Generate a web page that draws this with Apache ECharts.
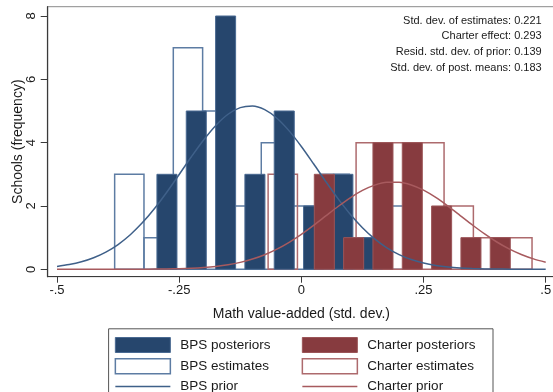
<!DOCTYPE html>
<html>
<head>
<meta charset="utf-8">
<script src="https://cdn.jsdelivr.net/npm/echarts@6/dist/echarts.min.js"></script>
<style>
  html, body { margin: 0; padding: 0; background: #fff; }
  #chart { width: 553px; height: 392px; }
</style>
</head>
<body>
<div id="chart"></div>
<script>
// Histogram bins of school value-added (std. dev.)
const BIN_WIDTH = 0.06;

// Raw estimates: left edge of each bin and school counts
const bpsEstLeft  = [-0.382, -0.322, -0.262, -0.202, -0.142, -0.082, -0.022, 0.038, 0.098, 0.158];
const bpsEstCount = [3, 1, 7, 5, 2, 4, 2, 3, 1, 2];
const charterEstLeft  = [-0.068, 0.112, 0.172, 0.232, 0.292, 0.352, 0.412];
const charterEstCount = [3, 4, 4, 4, 2, 1, 1];

// Posterior means: bin midpoints and school counts
const bpsPostMid   = [-0.275, -0.215, -0.155, -0.095, -0.035, 0.025, 0.085, 0.145];
const bpsPostCount = [3, 5, 8, 3, 5, 2, 3, 1];
const charterPostMid   = [0.047, 0.107, 0.167, 0.227, 0.287, 0.347, 0.407];
const charterPostCount = [3, 1, 4, 4, 2, 1, 1];

// Prior densities (scaled to frequency)
const priorX = [-0.5, -0.475, -0.45, -0.425, -0.4, -0.375, -0.35, -0.325, -0.3, -0.275,
  -0.25, -0.225, -0.2, -0.175, -0.15, -0.125, -0.1, -0.075, -0.05, -0.025,
  0, 0.025, 0.05, 0.075, 0.1, 0.125, 0.15, 0.175, 0.2, 0.225,
  0.25, 0.275, 0.3, 0.325, 0.35, 0.375, 0.4, 0.425, 0.45, 0.475, 0.5];
const bpsPrior = [0.091, 0.149, 0.237, 0.365, 0.543, 0.782, 1.092, 1.475, 1.929, 2.443,
  2.995, 3.555, 4.085, 4.545, 4.897, 5.107, 5.157, 5.041, 4.771, 4.372,
  3.879, 3.332, 2.771, 2.231, 1.739, 1.313, 0.959, 0.678, 0.465, 0.308,
  0.198, 0.123, 0.074, 0.043, 0.024, 0.013, 0.007, 0.004, 0.002, 0.001, 0.000];
const charterPrior = [0.000, 0.000, 0.000, 0.000, 0.000, 0.001, 0.002, 0.003, 0.006, 0.011,
  0.019, 0.033, 0.056, 0.091, 0.143, 0.219, 0.323, 0.461, 0.637, 0.853,
  1.106, 1.388, 1.686, 1.983, 2.259, 2.491, 2.659, 2.748, 2.750, 2.664,
  2.499, 2.269, 1.995, 1.698, 1.399, 1.117, 0.862, 0.645, 0.467, 0.328, 0.222];

// Axis ticks
const xTicks = [-0.5, -0.25, 0, 0.25, 0.5];
const xTickLabels = ['-.5', '-.25', '0', '.25', '.5'];
const yTicks = [0, 2, 4, 6, 8];

// Summary statistics
const notes = [
  'Std. dev. of estimates: 0.221',
  'Charter effect: 0.293',
  'Resid. std. dev. of prior: 0.139',
  'Std. dev. of post. means: 0.183'
];

const FONT = '"Liberation Sans", Arial, Helvetica, sans-serif';
const NAVY = '#26466d', NAVY_EDGE = '#4a6a92', NAVY_LINE = '#5d7ca3', NAVY_CURVE = '#3f6089';
const MAROON = '#873b3f', MAROON_EDGE = '#9b5558', MAROON_LINE = '#ad6a6d', MAROON_CURVE = '#a75a5e';
const POST_BAR_WIDTH = 0.041;
const LINE_ICON = 'path://M0,0H110V3H0Z';

function rectRenderer(fill, stroke, lineWidth) {
  return function (params, api) {
    const topLeft = api.coord([api.value(0), api.value(2)]);
    const bottomRight = api.coord([api.value(1), 0]);
    return {
      type: 'rect',
      shape: {
        x: topLeft[0], y: topLeft[1],
        width: bottomRight[0] - topLeft[0],
        height: bottomRight[1] - topLeft[1]
      },
      style: { fill: fill, stroke: stroke, lineWidth: lineWidth }
    };
  };
}

const estData = (lefts, counts) => lefts.map((l, i) => [l, l + BIN_WIDTH, counts[i]]);
const postData = (mids, counts) => mids.map((m, i) => [m - POST_BAR_WIDTH / 2, m + POST_BAR_WIDTH / 2, counts[i]]);
const curveData = (ys) => priorX.map((x, i) => [x, ys[i]]);

const chart = echarts.init(document.getElementById('chart'), null, { renderer: 'canvas' });

const legendCommon = {
  orient: 'vertical',
  top: 337,
  height: 80,
  padding: 0,
  itemWidth: 55,
  itemHeight: 15,
  itemGap: 5,
  selectedMode: false,
  textStyle: { fontFamily: FONT, fontSize: 13.5, color: '#1a1a1a', padding: [0, 0, 0, 5] }
};

chart.setOption({
  animation: false,
  backgroundColor: '#fff',
  textStyle: { fontFamily: FONT },
  grid: {
    left: 47.7, top: 6.7, width: 507.3, height: 270,
    outerBoundsMode: 'none', containLabel: false,
    show: true, borderColor: '#8a8a8a', borderWidth: 1, backgroundColor: 'transparent'
  },
  xAxis: {
    type: 'value',
    min: -0.519, max: 0.519,
    name: 'Math value-added (std. dev.)',
    nameLocation: 'middle',
    nameGap: 30,
    nameMoveOverlap: false,
    nameTextStyle: { fontFamily: FONT, fontSize: 14, color: '#1a1a1a' },
    axisLine: { show: true, onZero: false, lineStyle: { color: '#3a3a3a', width: 1.2 } },
    axisTick: { show: true, length: 6, customValues: xTicks, lineStyle: { color: '#3a3a3a' } },
    axisLabel: {
      customValues: xTicks,
      margin: 7,
      fontSize: 13,
      color: '#1a1a1a',
      formatter: (v) => xTickLabels[xTicks.indexOf(v)]
    },
    splitLine: { show: false }
  },
  yAxis: {
    type: 'value',
    min: -0.234, max: 8.294,
    name: 'Schools (frequency)',
    nameLocation: 'middle',
    nameGap: 23,
    nameMoveOverlap: false,
    nameTextStyle: { fontFamily: FONT, fontSize: 14, color: '#1a1a1a' },
    axisLine: { show: true, onZero: false, lineStyle: { color: '#3a3a3a', width: 1.2 } },
    axisTick: { show: true, length: 7, customValues: yTicks, lineStyle: { color: '#3a3a3a' } },
    axisLabel: {
      customValues: yTicks,
      rotate: 90,
      margin: 10,
      fontSize: 13,
      color: '#1a1a1a'
    },
    splitLine: { show: false }
  },
  legend: [
    Object.assign({}, legendCommon, {
      left: 114.6,
      data: [
        { name: 'BPS posteriors', icon: 'rect', itemStyle: { color: NAVY, borderColor: NAVY_EDGE, borderWidth: 1 } },
        { name: 'BPS estimates', icon: 'rect', itemStyle: { color: '#fff', borderColor: NAVY_LINE, borderWidth: 1.5 } },
        { name: 'BPS prior', icon: LINE_ICON, itemStyle: { color: NAVY_CURVE, borderWidth: 0 } }
      ]
    }),
    Object.assign({}, legendCommon, {
      left: 301.6,
      data: [
        { name: 'Charter posteriors', icon: 'rect', itemStyle: { color: MAROON, borderColor: MAROON_EDGE, borderWidth: 1 } },
        { name: 'Charter estimates', icon: 'rect', itemStyle: { color: '#fff', borderColor: MAROON_LINE, borderWidth: 1.5 } },
        { name: 'Charter prior', icon: LINE_ICON, itemStyle: { color: MAROON_CURVE, borderWidth: 0 } }
      ]
    })
  ],
  graphic: [
    {
      type: 'rect',
      shape: { x: 108.6, y: 328.8, width: 384.4, height: 80 },
      style: { fill: 'none', stroke: '#555', lineWidth: 1 },
      silent: true
    }
  ].concat(notes.map((t, i) => ({
    type: 'text',
    x: 541.7,
    y: 20.7 + i * 15.7,
    style: {
      text: t, fill: '#1a1a1a', font: '11px ' + FONT,
      textAlign: 'right', textVerticalAlign: 'middle'
    },
    silent: true
  }))),
  series: [
    {
      name: 'BPS estimates', type: 'custom', clip: true,
      itemStyle: { color: '#fff', borderColor: NAVY_LINE },
      renderItem: rectRenderer('none', NAVY_LINE, 1.5),
      encode: { x: [0, 1], y: 2 },
      data: estData(bpsEstLeft, bpsEstCount)
    },
    {
      name: 'Charter estimates', type: 'custom', clip: true,
      itemStyle: { color: '#fff', borderColor: MAROON_LINE },
      renderItem: rectRenderer('none', MAROON_LINE, 1.5),
      encode: { x: [0, 1], y: 2 },
      data: estData(charterEstLeft, charterEstCount)
    },
    {
      name: 'BPS posteriors', type: 'custom', clip: true,
      itemStyle: { color: NAVY },
      renderItem: rectRenderer(NAVY, NAVY_EDGE, 1),
      encode: { x: [0, 1], y: 2 },
      data: postData(bpsPostMid, bpsPostCount)
    },
    {
      name: 'Charter posteriors', type: 'custom', clip: true,
      itemStyle: { color: MAROON },
      renderItem: rectRenderer(MAROON, MAROON_EDGE, 1),
      encode: { x: [0, 1], y: 2 },
      data: postData(charterPostMid, charterPostCount)
    },
    {
      name: 'BPS prior', type: 'line', smooth: 0.3,
      symbol: 'none', showSymbol: false,
      lineStyle: { color: NAVY_CURVE, width: 1.5 },
      itemStyle: { color: NAVY_CURVE },
      data: curveData(bpsPrior)
    },
    {
      name: 'Charter prior', type: 'line', smooth: 0.3,
      symbol: 'none', showSymbol: false,
      lineStyle: { color: MAROON_CURVE, width: 1.5 },
      itemStyle: { color: MAROON_CURVE },
      data: curveData(charterPrior)
    }
  ]
});
</script>
</body>
</html>
